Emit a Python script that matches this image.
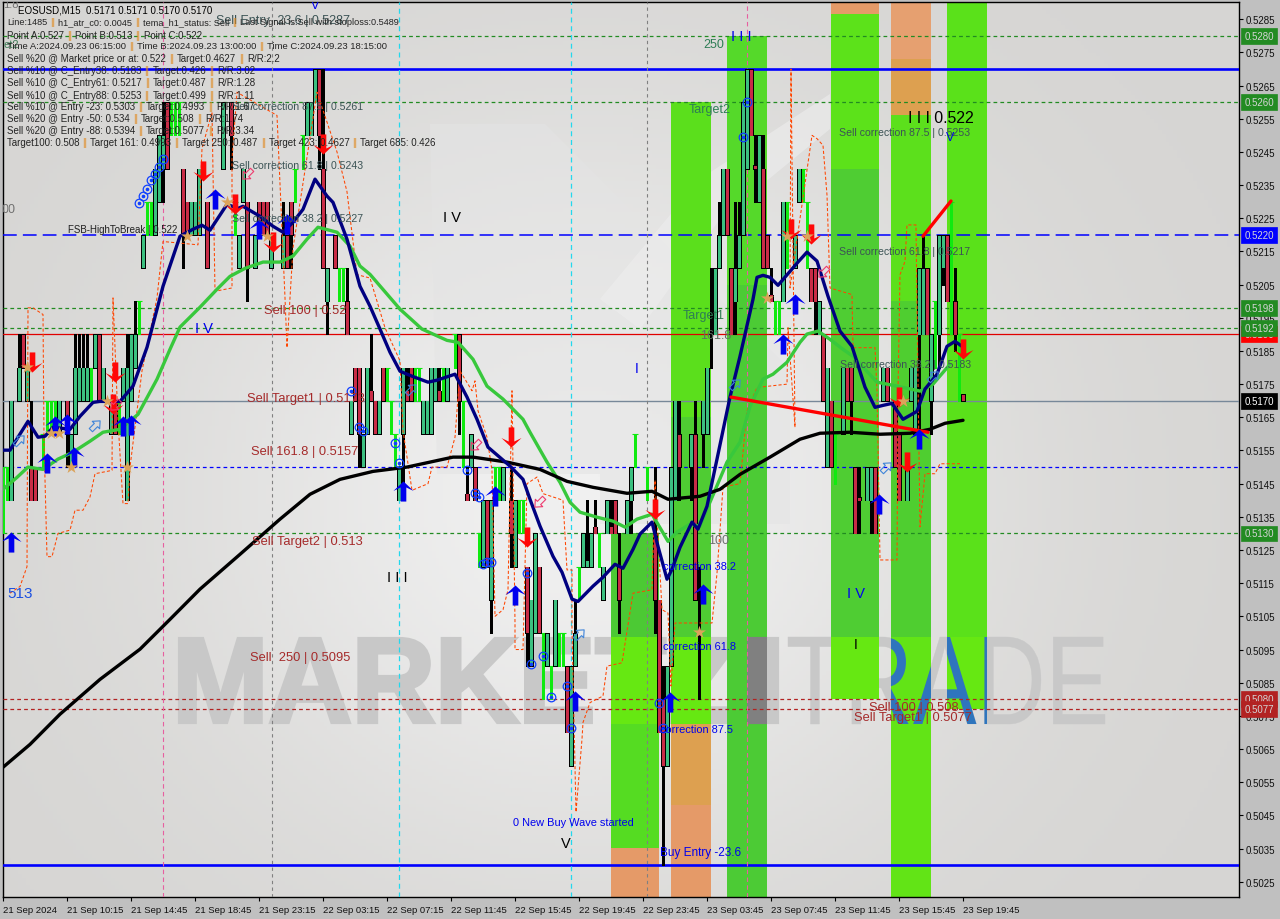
import numpy as np, pandas as pd, matplotlib
matplotlib.use("Agg")
import matplotlib.pyplot as plt, seaborn as sns
from matplotlib.colors import LinearSegmentedColormap
from matplotlib.font_manager import FontProperties
from matplotlib.patches import PathPatch, Rectangle, Polygon
from matplotlib.path import Path
from matplotlib.textpath import TextPath
from matplotlib.transforms import Affine2D, IdentityTransform, blended_transform_factory

# ---------- DATA: candles (prices in thousandths) ----------
candle_bar = [2,4,5,6,7,8,14,16,17,18,19,20,21,23,24,25,27,28,30,31,32,33,35,38,39,40,41,45,46,47,48,49,51,55,57,59,60,61,63,64,65,66,67,70,71,72,76,77,78,79,80,81,83,86,87,88,89,90,91,92,93,94,95,99,100,101,102,105,106,107,108,109,111,114,116,117,118,120,121,122,125,127,128,131,132,133,134,136,138,141,142,143,145,146,147,148,150,151,152,153,154,156,157,163,164,165,166,167,168,169,172,173,174,175,176,177,178,179,180,181,182,183,184,185,186,187,188,189,190,191,192,195,198,199,202,203,204,205,206,207,210,211,212,213,214,216,217,218,220,221,223,224,226,227,228,229,230,231,232,234,235,236,238,240]
candle_open = [514,517,519,517,515,515,516,517,515,516,517,517,517,518,519,517,516,517,517,514,517,518,521,522,523,524,526,524,523,522,522,522,523,524,526,521,523,523,521,523,523,523,521,521,522,523,525,525,526,527,524,520,522,520,516,518,518,515,516,517.3,517,516,518,514,516,517.3,518,516,516,516,517,517.3,517,519,514.2,515,515,512,514,511,514,514,512,512,509,510,512,509,509,509,506,509,512,512,512,513.2,511,513,513.2,514,512,513,514,513,511,508,506,509,514,516,515,516,511,516,516,519,519,521,522,524,521,520,521,522,524,527,524.1,523,524,522,520.2,520,521,523,521,521,519,519,515,517,516,518,518,515,514.1,514,514,515,517,518,517,516,514,517,516,519,519,521,517,519,521,522,520,517.2]
candle_close = [517,518,518,518,514,514,517,516,516,518,518,518,518,519,517,518,517,516,518,518,519,519,522,524,525,525,524,522,522,523,523,524,521,526,525,522,524,521,522,522,522,522,522,522,521,522,526,526,527,525,521,521,521,519,517,517,516,516,518,517,516,517,517,515,518,517,517,517,517,518,518,517,518,517,514,516,514,514,512,514,515,513,514,510,511,513,510,510,511,507,509,510,513,512.2,513,513,512,514,513,513,511,514,515,511,507,506,509,515,517,515,516,511,511,517,518,519,521,522,524,522,519,521,522,526,527,525,524,525,521,521,520,523,522,524,520,520,520,517,518,515,518,517,517,513,514,515,515,513,518,517,515,514,515,518,518,521,521,519,519,522,522,520,519,517]
candle_high = [517,519,519,518,517,515,517,517,516,519,519,519,519,519,519,518,517,517,518,519,519,520,522,524,525,526,526,524,523,523,523,524,523,526,526,522,524,523,522,523,523,523,522,523,522,523,526,526,527,527,527,521,522,521,517,518,518,516,518,519,517,517,518,515,518,518,518,517,517,518,518,518,518,519,515,516,515,514,514,514,515,515,514,512,511,513,512,510,511,509,509,511,513,514,513,514,512,514,514,514,513,514,515,515,511,509,509,515,517,517,516,517,512,517,518,521,521,523,524,524,521,523,523,526,527,527,525,525,525,522,521,523,522,524,521,521,520,519,518,517,518,518,518,515,515,515,515,515,518,518,517,516,515,518,518,521,522,521,519,522,522,522,521,517.2]
candle_low = [514,517,518,517,514,514,516,515,515,516,517,517,517,518,517,517,516,516,517,514,517,518,521,522,523,523,524,521,522,522,522,522,521,524,524,521,523,520,521,522,522,522,521,521,521,521,525,525,526,524,521,519,521,519,516,517,515,515,516,517,516,516,517,514,514,517,517,516,516,516,517,517,517,516,514,515,514,512,512,510,514,512,512,509,509,510,510,509,509,507,506,509,512,512,512,513,511,513,513,513,510,513,513,510,507,503,506,509,514,514,514,511,508,515,516,518,519,521,522,522,519,519,521,522,524,525,523,523,521,521,520,520,521,523,520,519,519,517,515,515,516,517,516,513,513,514,513,513,517,517,515,514,514,517,516,516,519,519,516,518,520.5,520,518.5,517]

lime_bar = [0,1,10,11,12,13,22,29,34,36,37,42,43,44,58,73,75,84,85,96,97,98,103,104,110,113,115,119,123,124,129,130,135,137,139,140,144,149,158,161,193,194,196,200,201,208,233,237,239]
lime_low = [513,514,515,516,516,516,517,516,519,522,522,525,525,525,522,523,524,520,520,517,516,515,517,517,517,518,515,512,514,514,513,513,508,508,509,509,511,512,515,514,519,519,521,523,521,514.5,518,519,517]
lime_high = [515,515,516,517,517,517,518,517,520,523,523,526,526,526,523,524,525,521,521,518,517,516,518,518,518,519,517,513,515,515,514,514,510,509,510,510,512,513,516,515,520,520,523,524,523,516,520,523,519]

# ---------- DATA: moving averages ----------
tema_bar = [0,1.75,3.75,6.25,8.75,10.5,12.5,16.75,19.25,22.5,24.25,29.25,32.5,36,40,44.25,47.5,49.75,51.75,56,58.75,60,64.25,67.5,70,72.5,75,78,81,82.5,86,89.25,91.75,94.25,96.75,99.25,102.25,106.25,108.5,113,116,118.5,121.25,126.75,130,131.75,134.25,137.5,139.75,142.25,143.75,147.5,150,153,155,157.5,159.25,162.25,163.75,166,167.25,169.25,172.25,173.75,176,178.5,181.75,184.25,187.5,188.5,190,191.75,193.75,196.75,198.75,201,203.5,206.25,209.25,212.25,215.5,218,220,222.25,225,228.5,230.5,233.5,236,238,239.75]
tema_price = [.51551,.51551,.51590,.51638,.51590,.51593,.51620,.51614,.51653,.51695,.51698,.51698,.51744,.51861,.52045,.52196,.52217,.52229,.52214,.52292,.52280,.52286,.52256,.52226,.52208,.52238,.52277,.52368,.52317,.52298,.52187,.52045,.51985,.51916,.51846,.51789,.51774,.51756,.51762,.51780,.51711,.51644,.51560,.51503,.51463,.51403,.51322,.51231,.51183,.51102,.51095,.51141,.51168,.51207,.51195,.51252,.51298,.51334,.51261,.51162,.51192,.51258,.51334,.51313,.51382,.51524,.51711,.51834,.52006,.52072,.52078,.52072,.52048,.52090,.52118,.52148,.52121,.52015,.51910,.51864,.51741,.51680,.51686,.51692,.51644,.51668,.51735,.51780,.51864,.51879,.51864]
mid_bar = [0,3.5,6.25,10,13.75,17.5,21.75,25,29.25,33.75,38.5,41.75,44.25,49.25,53.5,56.75,60.5,65,69.25,72.5,76,78.75,83.5,86.75,89.25,91.75,99.25,104.75,111,113.75,117.5,121,125,130,131.75,136,139.25,141.75,144.25,148.5,152.5,155.5,158.5,162.25,164.75,166.25,168.5,171.75,174.25,176,181,184.25,186.75,190,192.5,196,199.25,201,203.75,206.75,210,212.5,218.5,223.5,229.25,232.5,236.75]
mid_price = [.51433,.51469,.51500,.51493,.51524,.51545,.51578,.51605,.51614,.51659,.51765,.51855,.51922,.51982,.52036,.52075,.52099,.52118,.52118,.52136,.52187,.52223,.52208,.52166,.52106,.52081,.51976,.51916,.51882,.51876,.51825,.51744,.51705,.51644,.51605,.51515,.51454,.51394,.51364,.51349,.51337,.51319,.51343,.51358,.51307,.51276,.51304,.51328,.51322,.51373,.51515,.51575,.51683,.51765,.51780,.51816,.51876,.51901,.51910,.51885,.51855,.51834,.51756,.51744,.51729,.51750,.51810]
slow_bar = [0,6.75,14.25,24.25,34.25,41.75,49.25,59.25,69.25,76.75,84.25,92.5,101,112.5,117.5,126,134.25,141,147.5,156,162.25,166.25,174.25,179.25,184.25,191.75,199.25,204.25,211.75,219.25,226.75,231.75,235.5,240]
slow_price = [.50595,.50664,.50755,.50860,.50951,.51041,.51132,.51237,.51343,.51418,.51463,.51487,.51500,.51530,.51530,.51515,.51493,.51457,.51439,.51421,.51427,.51403,.51412,.51433,.51478,.51530,.51584,.51602,.51605,.51599,.51602,.51614,.51632,.51641]
stair_bar = [1.75,4.25,6,6.25,7.5,10,10.25,11,12.25,13.75,16.75,18,20,21.75,23,27.25,27.5,28.75,30,31.25,31.75,34.75,38.5,40,48.75,49.75,52.25,53,57.25,57.25,58.5,68.5,70.5,71,72.5,78.5,83.5,86,88.5,91.75,95.5,99.25,100,102.25,106.25,107.25,111,113,114.25,117.25,118,118.75,121,122.25,123,125,126.25,127.25,128,128,130,131,133.5,135,140,141,142.25,142.25,143.25,144.75,145,146.75,150,151,154.75,157.5,162.25,163,164.75,166.25,167,168,177.25,178.5,180,184.25,186,188.5,196,196.25,198,197,196.75,202.25,203.5,205,206,206.75,212.25,212.5,218,218.5,219.25,223.5,223.75,224.25,225.5,226,228.25,228.75,229.25,230.5,233,234.25,239.25]
stair_price = [.5112,.5114,.5120,.5198,.5198,.5196,.5158,.5123,.5123,.5130,.5131,.5137,.5137,.5141,.5148,.5149,.5201,.5164,.5139,.5139,.5150,.5179,.5201,.5218,.5217,.5246,.5257,.5203,.5204,.5243,.5263,.5256,.5201,.5186,.5216,.5263,.5245,.5233,.5208,.5207,.5192,.5182,.5161,.5143,.5145,.5150,.5150,.5159,.5179,.5173,.5176,.5167,.5159,.5149,.5105,.5107,.5113,.5173,.5103,.5095,.5095,.5145,.5147,.5142,.5140,.5119,.5119,.5101,.5046,.5068,.5073,.5079,.5081,.5090,.5091,.5112,.5113,.5146,.5107,.5106,.5084,.5103,.5103,.5118,.5144,.5145,.5167,.5174,.5175,.5192,.5162,.5270,.5204,.5250,.5249,.5247,.5232,.5204,.5202,.5186,.5186,.5173,.5122,.5122,.5173,.5208,.5212,.5223,.5223,.5176,.5132,.5148,.5148,.5151,.5151]

# ---------- DATA: signals ----------
up_bar = [2,11,13,16,17.75,30,32,53,64,71,100,123,128,143,166.75,175,195,198,219,229]
up_price = [.51273,.51512,.51623,.51629,.51530,.51623,.51626,.52308,.52217,.52232,.51427,.51412,.51114,.50794,.50791,.51117,.51870,.51991,.51388,.51584]
down_bar = [7.25,28,27.5,50,58,67.5,80,127,131,163,197,202,224,226,240]
down_price = [.51816,.51786,.51689,.52392,.52292,.52178,.52473,.51590,.51289,.51373,.52217,.52202,.51711,.51515,.51855]
star_bar = [6,12,14,17,26,31,46,56,66,174,191,196,201,225]
star_price = [.51801,.51602,.51602,.51500,.51698,.51500,.52196,.52298,.52196,.51002,.52009,.52196,.52196,.51698]
ring_bar = [34,35,36,37,38,39,40,87,89,90,98,99,116,118,119,120,121,122,131,132,135,137,141,142,164,165,186,185]
ring_price = [.52295,.52317,.52338,.52365,.52383,.52404,.52428,.51729,.51620,.51608,.51572,.51512,.51491,.51421,.51409,.51207,.51213,.51213,.51180,.50906,.50930,.50806,.50839,.50713,.50788,.50713,.52600,.52494]
hollow_up_bar = [4,23,102,144,183,232.5,220.75]
hollow_up_price = [.51581,.51626,.51735,.50996,.51750,.51774,.51500]
hollow_down_bar = [61,28,118,134,205]
hollow_down_price = [.52383,.51686,.51566,.51394,.52087]
trend_a_bar, trend_a_price = [182, 231.25], [.51711, .51605]
trend_b_bar, trend_b_price = [230, 237], [.52196, .52302]

# ---------- DATA: levels, axis ----------
level_price = [.5280,.5270,.5260,.5220,.5198,.5192,.5190,.5170,.5150,.5130,.5080,.5077,.5030]
badge_price = [.5280,.5260,.5220,.5198,.5190,.5192,.5170,.5130,.5080,.5077]
price_ticks = [round(.5025 + .001 * k, 4) for k in range(27)]
time_labels = ["21 Sep 2024","21 Sep 10:15","21 Sep 14:45","21 Sep 18:45","21 Sep 23:15","22 Sep 03:15","22 Sep 07:15","22 Sep 11:45","22 Sep 15:45","22 Sep 19:45","22 Sep 23:45","23 Sep 03:45","23 Sep 07:45","23 Sep 11:45","23 Sep 15:45","23 Sep 19:45"]

# zones: left bar, right bar, top price, bottom price
zone_left = [152,152,152,152, 167,167,167,167,167, 181,181, 207,207,207,207, 222,222,222,222,222, 236,236]
zone_right= [164,164,164,164, 177,177,177,177,177, 191,191, 219,219,219,219, 232,232,232,232,232, 246,246]
zone_top  = [.5130,.50987,.50725,.50351, .5260,.5165,.50987,.50725,.50480, .5280,.5205, .5291,.52865,.5240,.50987, .5291,.5273,.5256,.5200,.50987, .5291,.50987]
zone_bot  = [.50987,.50725,.50351,.5020, .5165,.50987,.50725,.50480,.5020, .5205,.5020, .52865,.5240,.50987,.5080, .5273,.5256,.5200,.50987,.5020, .50987,.5077]
zone_col  = ["#4cc934","#66e812","#55dc22","#e59a68", "#5bdf1c","#4fcc33","#66e812","#dda050","#e59a68", "#55d92a","#4ccb35", "#e59a68","#5ce21a","#4fcd33","#66e812", "#e6a070","#dda050","#5ce01c","#4fce30","#62e416", "#5ae11a","#66e812"]

W, H = 1280, 920
sns.set_theme(style="ticks")
FONT = ["Liberation Sans", "DejaVu Sans"]
plt.rcParams["font.family"] = FONT
fig = plt.figure(figsize=(W/100, H/100), dpi=100, facecolor="#c0c0c0")
ax = fig.add_axes([3/W, 1-898/H, (1239-3)/W, (898-3)/H])
ax.set_xlim(0, 309)
ax.set_ylim(.50204, .52902)
PX = Affine2D().scale(1, -1).translate(0, H)   # chart annotation coordinates, from top left

# background
cm = LinearSegmentedColormap.from_list("bg", ["#d6d5d3", "#f0f0f0"])
gx, gy = np.meshgrid(np.linspace(0, 1, 320), np.linspace(0, 1, 230))
glow = np.exp(-(((gx-.47)/.33)**2 + ((gy-.55)/.42)**2))
ax.imshow(glow, cmap=cm, extent=(0, 1, 0, 1), transform=ax.transAxes, aspect="auto", zorder=0)
for pts, col in [([(430,125),(545,125),(790,370),(790,525),(600,525),(600,475),(437,475)], "#e4e4e4"),
                 ([(600,300),(700,180),(830,95),(830,130),(720,220),(640,330)], "#eeeeee")]:
    ax.add_patch(Polygon(pts, closed=True, transform=PX, fc=col, ec="none", zorder=0.5, alpha=.6))

# watermark
def word(s, box, fam, weight):
    tp = TextPath((0, 0), s, size=100, prop=FontProperties(family=fam, weight=weight))
    e = tp.get_extents()
    x0, y0, x1, y1 = box
    return Affine2D().translate(-e.x0, -e.y0).scale((x1-x0)/e.width, (y1-y0)/e.height).translate(x0, H-y1).transform_path(tp)
wm1 = word("MARKETZ", (180, 640, 733, 723), "Liberation Sans", "bold")
wm2 = word("I", (749, 640, 777, 723), "Liberation Sans", "bold")
wm3 = word("TRADE", (788, 638, 1105, 725), "Liberation Sans", "normal")
for p, lw in ((wm1, 3.0), (wm2, 3.0), (wm3, .3)):
    ax.add_patch(PathPatch(p, transform=IdentityTransform(), fc="#c8c8c8", ec="#c8c8c8", lw=lw, zorder=1))

# zones
ax.bar(zone_left, np.subtract(zone_top, zone_bot), bottom=zone_bot, width=np.subtract(zone_right, zone_left),
       align="edge", color=zone_col, linewidth=0, zorder=2)
for (a, b, col) in [(891, 931, "#2f75bd"), (947, 987, "#2f75bd")]:
    patch = PathPatch(wm3, transform=IdentityTransform(), fc=col, ec="none", zorder=3)
    ax.add_patch(patch)
    patch.set_clip_path(Rectangle((a, H-898), b-a, 895, transform=IdentityTransform()))
patch = PathPatch(wm2, transform=IdentityTransform(), fc="#808080", ec="#808080", lw=3, zorder=3)
ax.add_patch(patch)
patch.set_clip_path(Rectangle((747, H-898), 20, 895, transform=IdentityTransform()))

# levels
GD = (0,(3,2.5))
lev_style = {.5280:("#228b22",GD,.9), .5270:("#0000ff","-",1.9), .5260:("#228b22",GD,.9),
             .5220:("#0000ff",(0,(9,4)),1.1), .5198:("#228b22",GD,.9), .5192:("#228b22",GD,.9),
             .5190:("#e00000","-",.9), .5170:("#778899","-",1.0), .5150:("#0000ff",GD,.9),
             .5130:("#228b22",GD,.9), .5080:("#b22222",GD,.9), .5077:("#b22222",GD,.9),
             .5030:("#0000ff","-",1.9)}
for v in level_price:
    c, ls, lw = lev_style[v]
    ax.axhline(v, color=c, ls=ls, lw=lw, zorder=4)
for b in [40, 186]:
    ax.axvline(b, color="#e75fa0", ls=(0,(4,3)), lw=.8, zorder=4)
for b in [67.25, 161]:
    ax.axvline(b, color="#808080", ls=(0,(3,3)), lw=.8, zorder=4)
for b in [99, 142]:
    ax.axvline(b, color="#22d8ee", ls=(0,(4,3)), lw=.9, zorder=4)

# candles: black outlined body with a coloured core on the wick line
o, c_, hi, lo = [np.array(a)/1000 for a in (candle_open, candle_close, candle_high, candle_low)]
bars = np.array(candle_bar, float)
lb = np.array(lime_bar, float)
ax.vlines(lb, np.array(lime_low)/1000, np.array(lime_high)/1000, color="#10ea10", lw=.8, zorder=5, antialiased=False)
ax.plot(lb, np.array(lime_high)/1000, ls="", marker="_", ms=4, mew=.8, color="#10ea10", zorder=5)
ax.vlines(bars, lo, hi, color="black", lw=.75, zorder=5, antialiased=False)
bull = c_ >= o
ax.bar(bars, c_-o, bottom=o, width=.78, color="black", edgecolor="black", linewidth=.72, zorder=5.2, antialiased=False)
top, bot = np.maximum(o, c_), np.minimum(o, c_)
inset = np.minimum(.00002, (top-bot)/3)
ax.vlines(bars[bull], (bot+inset)[bull], (top-inset)[bull], color="#3cc080", lw=.78, zorder=5.3, antialiased=False)
ax.vlines(bars[~bull], (bot+inset)[~bull], (top-inset)[~bull], color="#c82c46", lw=.78, zorder=5.3, antialiased=False)

# stair line + averages, through seaborn
sns.lineplot(data=pd.DataFrame({"bar":stair_bar,"price":stair_price}), x="bar", y="price",
             sort=False, estimator=None, color="#ff4500", lw=.75, ls=(0,(3,2)), ax=ax, zorder=5.5)
sns.lineplot(data=pd.DataFrame({"bar":mid_bar,"price":mid_price}), x="bar", y="price", sort=False, estimator=None, color="#38c83c", lw=2.4, ax=ax, zorder=6)
sns.lineplot(data=pd.DataFrame({"bar":slow_bar,"price":slow_price}), x="bar", y="price", sort=False, estimator=None, color="black", lw=2.4, ax=ax, zorder=6.1)
sns.lineplot(data=pd.DataFrame({"bar":tema_bar,"price":tema_price}), x="bar", y="price", sort=False, estimator=None, color="#000080", lw=2.4, ax=ax, zorder=6.2)
sns.lineplot(x=trend_a_bar, y=trend_a_price, color="#ff0000", lw=2.4, ax=ax, zorder=6.3, estimator=None)
sns.lineplot(x=trend_b_bar, y=trend_b_price, color="#ff0000", lw=2.4, ax=ax, zorder=6.3, estimator=None)

# markers
arrow_up = Path([(0,1),(1,.05),(.28,.4),(.28,-1),(-.28,-1),(-.28,.4),(-1,.05),(0,1)], closed=True)
arrow_dn = Path([(0,-1),(1,-.05),(.28,-.4),(.28,1),(-.28,1),(-.28,-.4),(-1,-.05),(0,-1)], closed=True)
sns.scatterplot(x=up_bar, y=up_price, marker=arrow_up, s=210, color="#0000ee", linewidth=0, ax=ax, zorder=7)
sns.scatterplot(x=down_bar, y=down_price, marker=arrow_dn, s=210, color="#ff0808", linewidth=0, ax=ax, zorder=7)
sns.scatterplot(x=star_bar, y=star_price, marker="*", s=95, color="#dba35a", linewidth=0, ax=ax, zorder=7.1)
ax.plot(ring_bar, ring_price, ls="", marker="o", ms=6.2, mfc="none", mec="#1040ff", mew=.9, zorder=7)
ax.plot(ring_bar, ring_price, ls="", marker="o", ms=1.6, color="#1040ff", zorder=7)
ah = Path([(0,1),(.8,.1),(.35,.1),(.35,-1),(-.35,-1),(-.35,.1),(-.8,.1),(0,1)], closed=True)
ax.plot(hollow_up_bar, hollow_up_price, ls="", marker=ah.transformed(Affine2D().rotate_deg(-45)), ms=9, mfc="none", mec="#3f84d8", mew=.8, zorder=7)
ax.plot(hollow_down_bar, hollow_down_price, ls="", marker=ah.transformed(Affine2D().rotate_deg(135)), ms=9, mfc="none", mec="#ee3a6e", mew=.8, zorder=7)

# labels
def lab(x, y, s, col="#2f4f4f", size=8.6, **kw):
    return ax.text(x, y, s, color=col, fontsize=size, va="center", ha="left", transform=PX, zorder=8,
                   family=FONT, clip_on=True, **kw)
brown, blue, slate = "#a52a2a", "#0000ee", "#3b5355"
for x, y, s in [(232,107,"Sell correction 87.5 | 0.5261"),(232,166,"Sell correction 61.8 | 0.5243"),(232,219,"Sell correction 38.2 | 0.5227"),
                (839,133,"Sell correction 87.5 | 0.5253"),(839,252,"Sell correction 61.8 | 0.5217"),(840,365,"Sell correction 38.2 | 0.5183")]:
    lab(x, y, s, slate, 7.6)
lab(216, 21, "Sell Entry -23.6 | 0.5287", slate, 9.0)
lab(68, 230, "FSB-HighToBreak | 0.522", "#202020", 7.0)
for x, y, s in [(264,311,"Sell 100 | 0.52"),(247,399,"Sell Target1 | 0.5173"),(251,452,"Sell 161.8 | 0.5157"),(252,542,"Sell Target2 | 0.513"),
                (250,658,"Sell  250 | 0.5095"),(869,708,"Sell 100 | 0.508"),(854,718,"Sell Target1 | 0.5077")]:
    lab(x, y, s, brown, 9.3)
for x, y, s in [(703,45,"250"),(689,110,"Target2"),(683,316,"Target1")]:
    lab(x, y, s, "#2e7d55", 9)
lab(700, 336, "161.8", "#5f6f60", 9); lab(708, 541, "100", "#707070", 9)
lab(2, 210, "00", "#707070", 9); lab(3, 5, "1.8", "#707070", 8); lab(3, 45, "et2", "#3d7d55", 8)
for x, y, s in [(663,567,"correction 38.2"),(663,647,"correction 61.8"),(660,730,"correction 87.5"),(513,823,"0 New Buy Wave started"),(660,853,"Buy Entry -23.6")]:
    lab(x, y, s, blue, 7.9 if "New" in s or "corr" in s else 8.5)
lab(7, 594, "513", "#1a4fe0", 11)
for x, y, s, col, sz in [(443,218,"I V","black",10.5),(387,578,"I I I","black",10.5),(635,369,"I",blue,10),(195,329,"I V",blue,10.5),(847,594,"I V",blue,10.5),
                         (561,844,"V","black",10.5),(908,119,"I I I 0.522","black",11.4),(731,37,"I I I",blue,10.5),(311,6,"V",blue,9),(946,138,"V",blue,9),(854,645,"I","black",10)]:
    lab(x, y, s, col, sz)

# header comment
hdr = [(18,11,"EOSUSD,M15  0.5171 0.5171 0.5170 0.5170","black",7.0),
 (7,23,"Line:1485 || h1_atr_c0: 0.0045 || tema_h1_status: Sell || Last Signal is:Sell with stoploss:0.5489",None,6.6),
 (7,36,"Point A:0.527 || Point B:0.513 || Point C:0.522",None,6.9),
 (7,47,"Time A:2024.09.23 06:15:00 || Time B:2024.09.23 13:00:00 || Time C:2024.09.23 18:15:00",None,6.8),
 (7,59,"Sell %20 @ Market price or at: 0.522 || Target:0.4627 || R/R:2.2",None,7.0),
 (7,71,"Sell %10 @ C_Entry38: 0.5183 || Target:0.426 || R/R:3.02",None,7.0),
 (7,83,"Sell %10 @ C_Entry61: 0.5217 || Target:0.487 || R/R:1.28",None,7.0),
 (7,96,"Sell %10 @ C_Entry88: 0.5253 || Target:0.499 || R/R:1.11",None,7.0),
 (7,107,"Sell %10 @ Entry -23: 0.5303 || Target:0.4993 || R/R:1.67",None,7.0),
 (7,119,"Sell %20 @ Entry -50: 0.534 || Target:0.508 || R/R:1.74",None,7.0),
 (7,131,"Sell %20 @ Entry -88: 0.5394 || Target:0.5077 || R/R:3.34",None,7.0),
 (7,143,"Target100: 0.508 || Target 161: 0.4993 || Target 250: 0.487 || Target 423: 0.4627 || Target 685: 0.426",None,7.0)]
fig.canvas.draw()
rend = fig.canvas.get_renderer()
for x, y, s, col, sz in hdr:
    parts = s.split(" || ")
    cx = x
    for i, part in enumerate(parts):
        t = lab(cx, y, part, col or "#242424", sz)
        cx = t.get_window_extent(rend).x1 + 3
        if i < len(parts)-1:
            t2 = lab(cx, y, "||", "#e08a20", sz)
            cx = t2.get_window_extent(rend).x1 + 3

# axes
ax.yaxis.tick_right()
ax.set_yticks(price_ticks, [f"{v:.4f}" for v in price_ticks])
ax.set_xticks([16*k for k in range(len(time_labels))], time_labels, ha="left")
ax.tick_params(axis="y", length=3, width=.8, pad=1.5, labelsize=7.0, labelcolor="#101010", color="black")
ax.tick_params(axis="x", length=3, width=.8, pad=2.5, labelsize=6.8, labelcolor="#101010", color="black")
ax.set_xlabel(""); ax.set_ylabel("")
for s in ax.spines.values():
    s.set_visible(True); s.set_color("black"); s.set_linewidth(1.0)
ax.set_xlim(0, 309); ax.set_ylim(.50204, .52902)

# price badges
bcol = {.5280:"#228b22",.5260:"#228b22",.5220:"#0000ff",.5198:"#228b22",.5192:"#228b22",.5190:"#ff0000",.5170:"#000000",.5130:"#228b22",.5080:"#b22222",.5077:"#b22222"}
bt = blended_transform_factory(PX, ax.transData)
for k, v in enumerate(badge_price):
    ax.text(1259, v, f"{v:.4f}", transform=bt, ha="center", va="center", fontsize=7.0, color="white" if v==.5170 else "#d4d4d4",
            clip_on=False, zorder=9+k, bbox=dict(boxstyle="square,pad=0.3", fc=bcol[v], ec=bcol[v], lw=.5))
fig.savefig("out.png", dpi=100, facecolor=fig.get_facecolor())
